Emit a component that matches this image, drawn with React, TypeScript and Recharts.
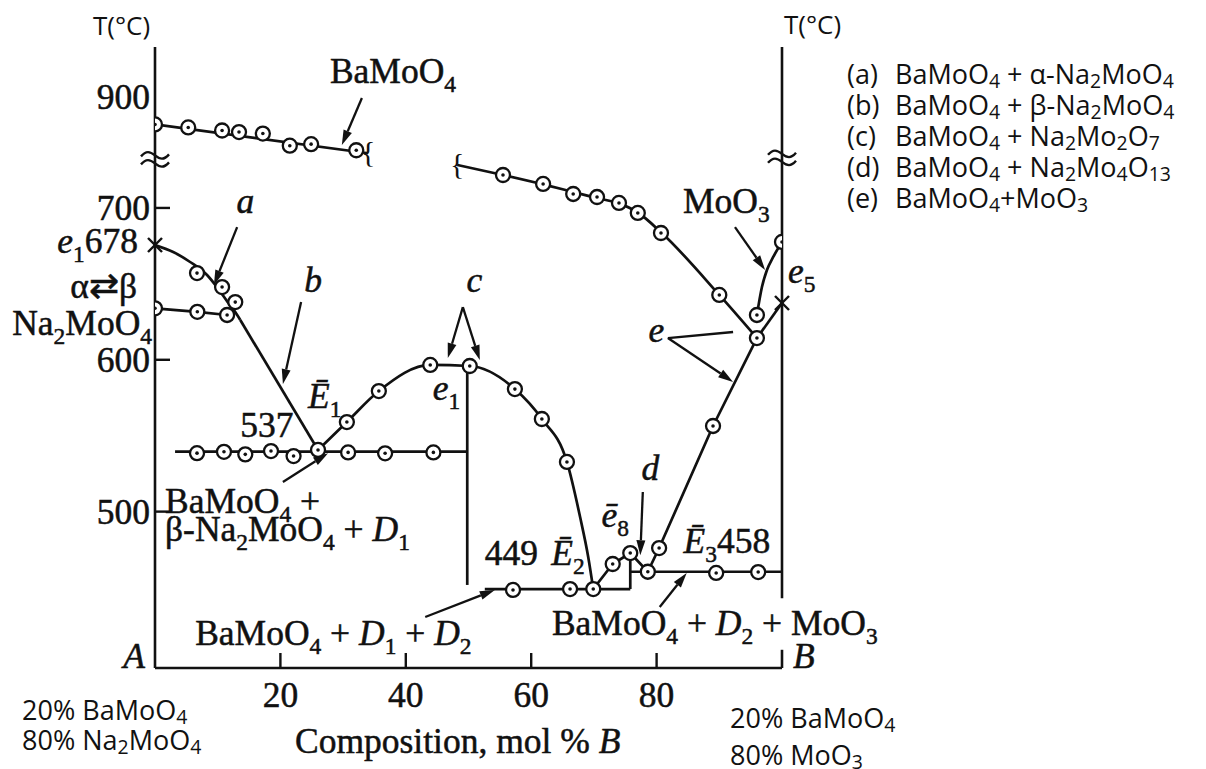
import React from "react";
import {
  ComposedChart,
  Line,
  Scatter,
  XAxis,
  YAxis,
  ReferenceLine,
  ReferenceDot,
} from "recharts";

const SERIF = '"Liberation Serif", "Times New Roman", serif';
const SANS = '"Open Sans", "Noto Sans", sans-serif';
const INK = "#111";
const SERIF_SIZE = 35.5;
const SANS_SIZE = 27;

type Pt = [number, number];

// the T axis is broken between 700 and 900: temperatures above the break
// are drawn shifted down by BREAK_SHIFT
const BREAK_SHIFT = 127;
const BREAK_AT = 732;
const shown = (t: number) => (t >= 850 ? t - BREAK_SHIFT : t);

// tick labels
const xTicks = [20, 40, 60, 80];
const yTicks = [500, 600, 700, 900];

// ---- BaMoO4 liquidus (upper, above the break) ----
const baUpperLine: Pt[] = [[0, 882], [34, 863]];
const baUpperPts: Pt[] = [
  [0, 882], [5.3, 880], [10.7, 878], [13.4, 877], [17.2, 876], [21.5, 868], [24.9, 869], [32.1, 865],
];

// ---- Na2MoO4 side ----
const liqA: Pt[] = [
  [0, 675.6], [2.9, 671], [5.6, 664.4], [8.3, 655.8], [10, 647.2], [11.6, 638], [12.8, 631.4], [13.6, 626.2],
];
const liqAPts: Pt[] = [[6.7, 657.1], [10.7, 647.9], [12.8, 638]];
const liqB: Pt[] = [[13.6, 626.2], [26, 540.6]];
const alphaBeta: Pt[] = [[0, 633.9], [6.75, 631.6], [11.5, 629.5]];

// ---- 537 eutectic and D1 field ----
const line537: Pt[] = [[3.2, 539.5], [49.8, 539.5]];
const pts537: Pt[] = [
  [6.7, 538.5], [11, 539.4], [14.4, 537.7], [18.5, 539.9], [22.1, 536.6], [26, 540.6], [30.8, 539], [36.7, 538.4], [44.4, 539],
];
const liqC: Pt[] = [
  [26, 540.6], [30.6, 559], [35.7, 579.4], [43.9, 596.6], [50.2, 595.9], [57.4, 580.7], [61.7, 561],
  [65.7, 532.7], [67.8, 496.4], [69.1, 470], [69.9, 449],
];
const liqCPts: Pt[] = [
  [30.6, 559], [35.7, 579.4], [43.9, 596.6], [50.2, 595.9], [57.4, 580.7], [61.7, 561], [65.7, 532.7],
];
const vertD1: Pt[] = [[49.8, 595.9], [49.8, 451.7]];

// ---- 449 / 458 region ----
const line449: Pt[] = [[52.6, 449], [75.8, 449]];
const pts449: Pt[] = [[57.1, 448.4], [66.2, 449], [69.9, 449]];
const vertE8: Pt[] = [[75.8, 449], [75.8, 470]];
const liqE8: Pt[] = [[69.9, 449], [73, 465.5], [75.8, 472.7], [78.6, 460.4]];
const liqE8Pts: Pt[] = [[73, 465.5], [75.8, 472.7]];
const line458: Pt[] = [[75.8, 460.4], [100, 460.4]];
const pts458: Pt[] = [[78.6, 460.4], [89.5, 459.6], [96.2, 460.2]];

// ---- MoO3 side ----
const liqE: Pt[] = [[78.6, 460.4], [80.4, 476], [89, 556.4], [96, 614.3]];
const liqEPts: Pt[] = [[80.4, 476], [89, 556.4]];
const liqE5: Pt[] = [[96, 614.3], [100, 637.4]];
const baLower: Pt[] = [
  [48.2, 728.3], [55.5, 721.7], [61.9, 715.5], [66.7, 710.5], [70.5, 706.5], [74, 703], [77, 697],
  [80.7, 684], [90, 642.7], [96, 614.3],
];
const baLowerPts: Pt[] = [
  [55.5, 721.7], [61.9, 715.8], [66.7, 709.2], [70.5, 707.2], [74, 703.3], [77, 696.7], [80.7, 683.5], [90, 642.7], [96, 614.3],
];
const liqMoO3: Pt[] = [[96, 629.5], [96.8, 647.9], [97.6, 659.1], [98.6, 667.7], [100, 677.6]];
const liqMoO3Pts: Pt[] = [[96, 629.5], [100, 677.6]];

// eutectics marked with a cross
const crosses: Pt[] = [[0, 675.6], [100, 637.4]];
// broken curve ends
const braces: Pt[] = [[34, 863], [48.2, 728.3]];

// annotation arrows, plot coordinates [from, to]
const arrows: { from: Pt; to: Pt; head?: boolean }[] = [
  { from: [33, 772.4], to: [29.8, 741.4] },
  { from: [13.1, 687.4], to: [9.4, 649.2] },
  { from: [23.3, 638], to: [20.4, 584] },
  { from: [49.1, 634.7], to: [46.7, 601.1] },
  { from: [49.1, 634.7], to: [51.8, 599.8] },
  { from: [20.4, 519.5], to: [27.6, 538.5] },
  { from: [43.1, 430.6], to: [54.2, 448.4] },
  { from: [77.8, 512.9], to: [77.4, 471.3] },
  { from: [81.8, 614.3], to: [92.2, 618.3], head: false },
  { from: [81.8, 614.3], to: [92.2, 585.4] },
  { from: [92.5, 687.4], to: [97.3, 659.1] },
  { from: [80.5, 437.2], to: [84.8, 459.6] },
];

// in-plot labels ("/x/" italic, "_{n}" subscript), plot coordinates
const notes: { text: string; x: number; y: number; dx?: number; anchor?: "start" | "end" }[] = [
  { text: "BaMoO_{4}", x: 27.9, y: 782.3 },
  { text: "/e/_{1}678", x: 0, y: 670.3, dx: -17, anchor: "end" },
  { text: "α⇄β", x: 0, y: 640.7, dx: -18, anchor: "end" },
  { text: "Na_{2}MoO_{4}", x: 0, y: 616.3, dx: -3, anchor: "end" },
  { text: "537", x: 13.6, y: 549.1 },
  { text: "/Ē/_{1}", x: 24.4, y: 568.2 },
  { text: "/e/_{1}", x: 44.3, y: 573.5 },
  { text: "BaMoO_{4} +", x: 1.6, y: 499.3 },
  { text: "β-Na_{2}MoO_{4} + /D/_{1}", x: 1.6, y: 480.4 },
  { text: "BaMoO_{4} + /D/_{1} + /D/_{2}", x: 6.4, y: 412.1 },
  { text: "/A/", x: 0, y: 397, dx: -10, anchor: "end" },
  { text: "449", x: 52.6, y: 464.8 },
  { text: "/Ē/_{2}", x: 63.2, y: 464.8 },
  { text: "/ē/_{8}", x: 71.2, y: 490 },
  { text: "/d/", x: 77.6, y: 520.8 },
  { text: "/Ē/_{3}458", x: 84.3, y: 472.5 },
  { text: "BaMoO_{4} + /D/_{2} + MoO_{3}", x: 63.3, y: 418.7 },
  { text: "/B/", x: 100, y: 397, dx: 11 },
  { text: "MoO_{3}", x: 84.2, y: 696.4 },
  { text: "/e/_{5}", x: 100, y: 650.4, dx: 6 },
  { text: "/e/", x: 78.7, y: 611.9 },
  { text: "/c/", x: 49.7, y: 644.8 },
  { text: "/b/", x: 23.8, y: 644.8 },
  { text: "/a/", x: 13, y: 696.4 },
];

const legendKeys = ["(a)", "(b)", "(c)", "(d)", "(e)"];
const legendPhases = [
  "BaMoO_{4} + α-Na_{2}MoO_{4}",
  "BaMoO_{4} + β-Na_{2}MoO_{4}",
  "BaMoO_{4} + Na_{2}Mo_{2}O_{7}",
  "BaMoO_{4} + Na_{2}Mo_{4}O_{13}",
  "BaMoO_{4}+MoO_{3}",
];
const endA = ["20% BaMoO_{4}", "80% Na_{2}MoO_{4}"];
const endB = ["20% BaMoO_{4}", "80% MoO_{3}"];

const toXY = (a: Pt[]) => a.map(([x, t]) => ({ x, y: shown(t) }));

type Seg = { t: string; it: boolean; sub: boolean };
function parse(s: string): Seg[] {
  const out: Seg[] = [];
  let buf = "";
  let it = false;
  const flush = () => {
    if (buf) out.push({ t: buf, it, sub: false });
    buf = "";
  };
  for (let i = 0; i < s.length; i++) {
    const c = s[i];
    if (c === "/") {
      flush();
      it = !it;
    } else if (c === "_" && s[i + 1] === "{") {
      flush();
      const j = s.indexOf("}", i);
      out.push({ t: s.slice(i + 2, j), it: false, sub: true });
      i = j;
    } else buf += c;
  }
  flush();
  return out;
}

function Rich({
  x, y, text, size, family, anchor = "start", subScale = 0.66, subDrop = 0.25, bold = 0,
}: {
  x: number; y: number; text: string; size: number; family: string;
  anchor?: "start" | "end" | "middle"; subScale?: number; subDrop?: number; bold?: number;
}) {
  let low = false;
  return (
    <text x={x} y={y} fontFamily={family} fontSize={size} textAnchor={anchor} fill={INK}
      stroke={bold ? INK : undefined} strokeWidth={bold || undefined}>
      {parse(text).map((s, i) => {
        let dy = 0;
        if (s.sub && !low) { dy = size * subDrop; low = true; }
        else if (!s.sub && low) { dy = -size * subDrop; low = false; }
        return (
          <tspan key={i} dy={dy || undefined} fontStyle={s.it ? "italic" : undefined}
            fontSize={s.sub ? size * subScale : undefined}>
            {s.t}
          </tspan>
        );
      })}
    </text>
  );
}

const Ring = (p: any) => (
  <g>
    <circle cx={p.cx} cy={p.cy} r={7} fill="#fff" stroke={INK} strokeWidth={2.3} />
    <circle cx={p.cx} cy={p.cy} r={1.8} fill={INK} />
  </g>
);

const Cross = (p: any) => (
  <g stroke={INK} strokeWidth={2.4}>
    <line x1={p.cx - 7} y1={p.cy - 7} x2={p.cx + 7} y2={p.cy + 7} />
    <line x1={p.cx - 7} y1={p.cy + 7} x2={p.cx + 7} y2={p.cy - 7} />
  </g>
);

const Brace = (p: any) => (
  <text x={p.cx} y={p.cy} dy={9} textAnchor="middle" fontFamily={SERIF} fontSize={30} fill={INK}>
    {"{"}
  </text>
);

const AxisBreak = (p: any) => (
  <g transform={`translate(${p.cx},${p.cy})`} fill="none" stroke={INK} strokeWidth={2.4}>
    <path d="M-14,-3 C-9,-9 -5,-8 0,-4 S9,1 14,-5" />
    <path d="M-14,5 C-9,-1 -5,0 0,4 S9,9 14,3" />
  </g>
);

const arrowShape = (head: boolean) => (p: any) => {
  const { x1, y1, x2, y2 } = p;
  const a = Math.atan2(y2 - y1, x2 - x1);
  const L = 15;
  const W = 4.5;
  const bx = x2 - L * Math.cos(a);
  const by = y2 - L * Math.sin(a);
  const nx = -Math.sin(a) * W;
  const ny = Math.cos(a) * W;
  return (
    <g>
      <line x1={x1} y1={y1} x2={head ? bx : x2} y2={head ? by : y2} stroke={INK} strokeWidth={2.3} />
      {head && <polygon points={`${x2},${y2} ${bx + nx},${by + ny} ${bx - nx},${by - ny}`} fill={INK} />}
    </g>
  );
};

const YTick = (p: any) => {
  const v = p.payload.value as number;
  const label = v > BREAK_AT ? v + BREAK_SHIFT : v;
  return (
    <g>
      {v < BREAK_AT && <line x1={p.x} x2={p.x + 15} y1={p.y} y2={p.y} stroke={INK} strokeWidth={2.4} />}
      <text x={p.x - 5} y={p.y} dy={12} textAnchor="end" fontFamily={SERIF} fontSize={SERIF_SIZE}
        fill={INK} stroke={INK} strokeWidth={0.5}>
        {Math.round(label)}
      </text>
    </g>
  );
};

const XTick = (p: any) => (
  <g>
    <line x1={p.x} x2={p.x} y1={p.y} y2={p.y - 15} stroke={INK} strokeWidth={2.4} />
    <text x={p.x} y={p.y + 39} textAnchor="middle" fontFamily={SERIF} fontSize={SERIF_SIZE}
      fill={INK} stroke={INK} strokeWidth={0.5}>
      {p.payload.value}
    </text>
  </g>
);

export default function App() {
  const curves: { d: Pt[]; type: "linear" | "monotone" }[] = [
    { d: baUpperLine, type: "linear" },
    { d: liqA, type: "monotone" },
    { d: liqB, type: "linear" },
    { d: alphaBeta, type: "linear" },
    { d: line537, type: "linear" },
    { d: liqC, type: "monotone" },
    { d: vertD1, type: "linear" },
    { d: line449, type: "linear" },
    { d: vertE8, type: "linear" },
    { d: liqE8, type: "linear" },
    { d: line458, type: "linear" },
    { d: liqE, type: "linear" },
    { d: liqE5, type: "linear" },
    { d: baLower, type: "monotone" },
    { d: liqMoO3, type: "monotone" },
  ];
  const pointSets: Pt[][] = [
    baUpperPts, liqAPts, alphaBeta, pts537, liqCPts, pts449, liqE8Pts, pts458, liqEPts, baLowerPts, liqMoO3Pts,
  ];

  return (
    <div style={{ position: "absolute", left: 0, top: 0, width: 1206, height: 769, background: "#fff", overflow: "hidden" }}>
      <ComposedChart width={1206} height={769} margin={{ top: 47, right: 424, bottom: 61, left: 95 }}>
        <XAxis
          type="number"
          dataKey="x"
          domain={[0, 100]}
          ticks={xTicks}
          interval={0}
          allowDataOverflow
          height={40}
          tickSize={0}
          tickMargin={0}
          tickLine={false}
          tick={XTick}
          axisLine={{ stroke: INK, strokeWidth: 2.6 }}
        />
        <YAxis
          type="number"
          dataKey="y"
          domain={[397, 806]}
          ticks={yTicks.map(shown)}
          interval={0}
          allowDataOverflow
          width={60}
          tickSize={0}
          tickMargin={0}
          tickLine={false}
          tick={YTick}
          axisLine={{ stroke: INK, strokeWidth: 2.6 }}
        />
        {/* right (B) axis, interrupted where the label crosses it */}
        <ReferenceLine segment={[{ x: 100, y: 806 }, { x: 100, y: 443 }]} stroke={INK} strokeWidth={2.6} />
        <ReferenceLine segment={[{ x: 100, y: 409 }, { x: 100, y: 397 }]} stroke={INK} strokeWidth={2.6} />

        {curves.map((c, i) => (
          <Line
            key={`c${i}`}
            data={toXY(c.d)}
            dataKey="y"
            type={c.type}
            stroke={INK}
            strokeWidth={2.7}
            dot={false}
            activeDot={false}
            isAnimationActive={false}
          />
        ))}

        {arrows.map((a, i) => (
          <ReferenceLine
            key={`a${i}`}
            segment={[{ x: a.from[0], y: a.from[1] }, { x: a.to[0], y: a.to[1] }]}
            ifOverflow="visible"
            shape={arrowShape(a.head !== false)}
          />
        ))}

        {pointSets.map((s, i) => (
          <Scatter key={`p${i}`} data={toXY(s)} dataKey="y" shape={Ring} isAnimationActive={false} />
        ))}

        {crosses.map(([x, t], i) => (
          <ReferenceDot key={`x${i}`} x={x} y={t} ifOverflow="visible" shape={Cross} />
        ))}
        {braces.map(([x, t], i) => (
          <ReferenceDot key={`b${i}`} x={x} y={shown(t)} ifOverflow="visible" shape={Brace} />
        ))}
        <ReferenceDot x={0} y={732} ifOverflow="visible" shape={AxisBreak} />
        <ReferenceDot x={100} y={733} ifOverflow="visible" shape={AxisBreak} />

        {notes.map((n, i) => (
          <ReferenceDot
            key={`n${i}`}
            x={n.x}
            y={n.y}
            ifOverflow="visible"
            shape={(p: any) => (
              <Rich x={p.cx + (n.dx ?? 0)} y={p.cy} text={n.text} size={SERIF_SIZE} family={SERIF}
                anchor={n.anchor} bold={0.5} />
            )}
          />
        ))}
      </ComposedChart>

      <svg width={1206} height={769} style={{ position: "absolute", left: 0, top: 0, pointerEvents: "none" }}>
        <text x={93} y={35} fontFamily={SANS} fontSize={26} fill={INK}>T(°C)</text>
        <text x={784} y={34} fontFamily={SANS} fontSize={26} fill={INK}>T(°C)</text>
        {legendKeys.map((k, i) => (
          <g key={k}>
            <text x={847} y={84 + i * 31} fontFamily={SANS} fontSize={SANS_SIZE} fill={INK}>{k}</text>
            <Rich x={895} y={84 + i * 31} text={legendPhases[i]} size={SANS_SIZE} family={SANS}
              subScale={0.72} subDrop={0.16} />
          </g>
        ))}
        {endA.map((t, i) => (
          <Rich key={`ea${i}`} x={22} y={720 + i * 30} text={t} size={SANS_SIZE} family={SANS}
            subScale={0.72} subDrop={0.16} />
        ))}
        {endB.map((t, i) => (
          <Rich key={`eb${i}`} x={730} y={728 + i * 37} text={t} size={SANS_SIZE} family={SANS}
            subScale={0.72} subDrop={0.16} />
        ))}
        <Rich x={295} y={753} text="Composition, mol % /B/" size={SERIF_SIZE} family={SERIF} bold={0.5} />
      </svg>
    </div>
  );
}
